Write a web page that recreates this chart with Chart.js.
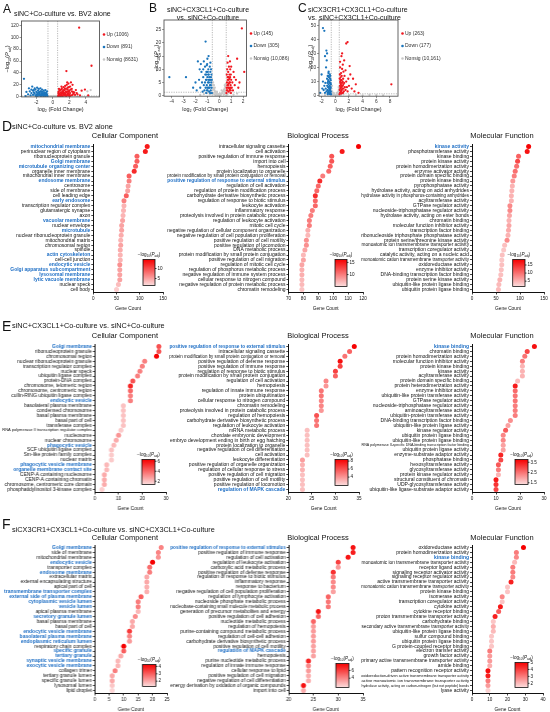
<!DOCTYPE html>
<html>
<head>
<meta charset="utf-8">
<script src="https://cdn.jsdelivr.net/npm/chart.js@4.4.1/dist/chart.umd.min.js"></script>
<style>
  body { margin: 0; background: #fff; width: 550px; height: 712px; position: relative; overflow: hidden;
         font-family: "Liberation Sans", Arial, sans-serif; color: #111; }
  canvas { position: absolute; }
  .t { position: absolute; white-space: nowrap; line-height: 1; color: #111; will-change: transform; }
  .c { text-align: center; }
  .big { font-size: 12px; }
  .row { font-size: 14px; }
  .ttl { font-size: 7px; }
  .sub { font-size: 7.5px; width: 100px; text-align: center; }
</style>
</head>
<body>
<div class="t big" style="left:3px;top:3px">A</div>
<div class="t ttl" style="left:14px;top:10px">siNC+Co-culture vs. BV2 alone</div>
<div class="t big" style="left:149px;top:2px">B</div>
<div class="t ttl c" style="left:158px;top:6px;width:100px;line-height:7.5px">siNC+CX3CL1+Co-culture<br>vs. siNC+Co-culture</div>
<div class="t big" style="left:298px;top:2px">C</div>
<div class="t ttl" style="left:307.5px;top:6px;line-height:7.5px">siCX3CR1+CX3CL1+Co-culture<br>vs. siNC+CX3CL1+Co-culture</div>

<div class="t row" style="left:2px;top:119px">D</div>
<div class="t ttl" style="left:12px;top:123px;font-size:7.3px">siNC+Co-culture vs. BV2 alone</div>
<div class="t sub" style="left:75px;top:131.8px">Cellular Component</div>
<div class="t sub" style="left:268px;top:131.8px">Biological Process</div>
<div class="t sub" style="left:452px;top:131.8px">Molecular Function</div>

<div class="t row" style="left:2px;top:318.5px">E</div>
<div class="t ttl" style="left:12px;top:322px;font-size:7.3px">siNC+CX3CL1+Co-culture vs. siNC+Co-culture</div>
<div class="t sub" style="left:75px;top:332.3px">Cellular Component</div>
<div class="t sub" style="left:268px;top:332.3px">Biological Process</div>
<div class="t sub" style="left:452px;top:332.3px">Molecular Function</div>

<div class="t row" style="left:2px;top:516.5px">F</div>
<div class="t ttl" style="left:12px;top:525.5px;font-size:7.3px">siCX3CR1+CX3CL1+Co-culture vs. siNC+CX3CL1+Co-culture</div>
<div class="t sub" style="left:75px;top:533.8px">Cellular Component</div>
<div class="t sub" style="left:268px;top:533.8px">Biological Process</div>
<div class="t sub" style="left:452px;top:533.8px">Molecular Function</div>

<script>
// ---------- volcano data (log2 FC, -log10 Padj) ----------
const volcanoLabels = ["Up", "Down", "Nonsig"];

const volAUp = [[0.65,1],[0.7,3],[0.75,2],[0.8,5],[0.85,1.5],[0.9,4],[0.95,7],[1.0,2],[1.05,6],[1.1,3],[1.15,9],[1.2,1],[1.25,5],[1.3,8],[1.35,3],[1.4,11],[1.45,2],[1.5,6],[1.55,4],[1.6,9],[1.65,1],[1.7,7],[1.75,3],[1.8,12],[1.85,5],[1.9,2],[1.95,8],[2.0,4],[2.1,6],[2.2,2],[2.3,9],[2.4,3],[2.5,5],[0.7,8],[0.8,10],[0.9,1],[1.0,12],[1.1,14],[1.2,7],[1.3,16],[1.4,5],[1.5,18],[1.6,13],[1.7,20],[1.8,15],[1.9,22],[2.0,10],[2.1,17],[2.2,24],[2.3,13],[2.6,7],[2.8,11],[3.0,4],[3.5,10],[3.9,12],[4.3,2],[4.7,52],[3.2,116],[1.65,43],[1.75,24],[2.4,20],[0.75,13],[1.05,17],[1.25,11],[1.45,14],[1.55,2],[1.85,9],[2.05,1],[2.15,12],[2.45,8],[2.7,3],[2.9,6],[3.3,2],[0.95,3],[1.15,1],[1.35,6],[0.68,6],[0.88,11],[1.95,16]];
const volADown = [[-0.65,1],[-0.7,4],[-0.75,2],[-0.8,6],[-0.85,3],[-0.9,1],[-0.95,5],[-1.0,2],[-1.05,7],[-1.1,3],[-1.15,1],[-1.2,5],[-1.25,8],[-1.3,2],[-1.35,4],[-1.4,6],[-1.45,1],[-1.5,9],[-1.55,3],[-1.6,5],[-1.65,2],[-1.7,7],[-1.75,4],[-1.8,10],[-1.85,1],[-1.9,6],[-1.95,3],[-2.0,8],[-2.1,2],[-2.2,5],[-2.3,11],[-2.4,3],[-2.5,17],[-2.6,6],[-2.7,2],[-2.8,9],[-3.0,4],[-3.2,8],[-3.5,30],[-0.7,9],[-0.9,11],[-1.1,10],[-1.3,12],[-1.5,14],[-1.7,13],[-1.9,15],[-2.1,12],[-2.2,14],[-2.4,10],[-0.8,7],[-1.0,4],[-1.2,3],[-1.4,9],[-1.6,8],[-1.8,4],[-2.0,1],[-2.3,7],[-2.6,12],[-3.3,1],[-2.9,14]];
const volANs = [[-0.5,0.5],[-0.3,1],[0,0.3],[0.2,0.8],[0.4,1.1],[-0.1,0.2],[0.5,0.6],[-1,0.5],[1,0.4],[-2,0.3],[2,0.7],[-0.4,0.1],[0.3,0.2],[1.5,0.9],[-1.5,1.0],[3,0.5],[-3,0.4],[0.1,1.2],[-0.2,0.9],[0.45,0.3],[4.2,9],[4.6,11]];
const volACounts = [1006, 891, 8631];

const volBUp = [[0.6,1],[0.62,3],[0.65,5],[0.68,2],[0.7,7],[0.72,4],[0.75,9],[0.78,1.5],[0.8,6],[0.82,3],[0.85,8],[0.88,2],[0.9,5],[0.92,10],[0.95,4],[0.98,1],[1.0,6],[0.63,8],[0.67,10],[0.71,6],[0.74,3],[0.77,7],[0.81,11],[0.84,5],[0.87,2.5],[0.91,7],[0.94,3],[0.97,8],[1.05,3],[1.1,5],[1.15,2],[1.2,9],[1.3,4],[1.4,6],[1.5,14],[1.6,3],[1.7,5],[1.9,25.5],[2.1,9],[0.75,15],[0.7,12.5],[0.9,13],[1.0,11],[1.25,7],[0.64,2],[0.69,4],[0.79,4.5],[0.86,6.5],[0.96,2]];
const volBDown = [[-0.62,1],[-0.65,3],[-0.68,5],[-0.7,7],[-0.72,2],[-0.75,9],[-0.78,4],[-0.8,11],[-0.82,6],[-0.85,1.5],[-0.88,8],[-0.9,3],[-0.92,10],[-0.95,5],[-0.98,2],[-1.0,7],[-1.02,12],[-1.05,4],[-1.08,9],[-1.1,1],[-1.12,6],[-1.15,3],[-1.18,8],[-1.2,5],[-0.63,6],[-0.66,8],[-0.69,10],[-0.71,4],[-0.74,6],[-0.77,1],[-0.81,3],[-0.84,7],[-0.87,5],[-0.91,6],[-0.94,8],[-0.97,9],[-1.01,3],[-1.04,2],[-1.07,6],[-1.1,8],[-1.25,2],[-1.3,4],[-1.35,7],[-1.4,1.5],[-1.45,5],[-1.5,9],[-1.6,3],[-1.7,6],[-1.8,13],[-1.9,2],[-2.0,5],[-2.2,3],[-2.8,7],[-4.2,7],[-1.15,20.5],[-0.9,15],[-1.3,13],[-1.2,11],[-1.55,12],[-1.65,10],[-1.0,14],[-1.35,10],[-1.05,11.5],[-0.75,12.5]];
const volBNs = [[-0.55,4],[-0.5,3],[-0.45,2.5],[-0.4,2],[-0.35,1.5],[-0.3,1.2],[-0.25,0.8],[-0.2,0.6],[-0.15,0.4],[-0.1,0.3],[0,0.1],[0.1,0.3],[0.15,0.5],[0.2,0.8],[0.25,1],[0.3,1.4],[0.35,1.8],[0.4,2.2],[0.45,2.8],[0.5,3.5],[0.55,4.5],[-0.52,5],[-0.48,1],[-0.42,0.5],[-0.38,3],[0.42,0.6],[0.48,1.5],[0.52,2],[0.38,0.4],[-0.3,0.2],[0.05,0.8],[-0.05,0.6],[-0.6,0.8],[-0.8,0.5],[-1.0,1.0],[-1.3,0.6],[0.7,0.6],[0.9,1.1],[1.2,0.4],[-0.7,1.2],[0.6,0.2],[-1.6,0.3],[1.5,0.8],[-0.56,2],[0.56,1],[-0.2,1.5],[0.2,2],[-0.45,4],[0.46,4]];
const volBCounts = [145, 305, 10086];

const volCUp = [[0.62,1],[0.65,4],[0.68,7],[0.7,2],[0.72,10],[0.75,5],[0.78,13],[0.8,3],[0.82,8],[0.85,16],[0.88,1.5],[0.9,6],[0.92,11],[0.95,4],[0.98,9],[1.0,19],[1.05,2],[1.1,7],[1.15,12],[1.2,5],[1.25,3],[1.3,9],[1.35,14],[1.4,6],[0.64,12],[0.67,15],[0.71,20],[0.74,9],[0.77,6],[0.81,11],[0.86,3],[0.93,14],[0.97,7],[1.03,5],[1.08,10],[1.12,2],[1.18,8],[1.5,4],[1.6,10],[1.7,6],[1.8,3],[1.9,12],[2.0,7],[2.2,15],[2.6,12],[3.0,8],[2.8,3],[2.4,5],[3.4,2],[8.2,8],[1.8,38],[1.6,37],[1.0,30],[1.3,25],[1.1,22],[0.9,28],[1.5,18],[1.2,17],[0.7,24],[2.1,21]];
const volCDown = [[-0.62,1],[-0.65,3],[-0.68,6],[-0.7,9],[-0.72,2],[-0.75,12],[-0.78,4],[-0.8,15],[-0.82,7],[-0.85,1.5],[-0.88,10],[-0.9,5],[-0.92,13],[-0.95,3],[-0.98,8],[-1.0,16],[-1.02,11],[-1.05,6],[-1.08,2],[-1.1,14],[-1.12,9],[-1.15,4],[-1.18,7],[-1.2,12],[-0.64,8],[-0.67,11],[-0.71,5],[-0.74,14],[-0.77,1],[-0.81,9],[-0.84,4],[-0.87,13],[-0.91,2],[-0.94,6],[-0.97,17],[-1.01,3],[-1.04,10],[-1.07,14],[-1.1,1],[-1.3,3],[-1.4,5],[-1.5,2],[-1.6,7],[-1.7,4],[-1.9,5],[-2.0,15],[-1.8,10],[-1.8,48],[-1.6,46],[-1.3,32],[-1.2,30],[-1.5,28],[-1.35,20],[-1.25,25],[-1.45,9],[-2.2,2]];
const volCNs = [[-0.55,5],[-0.45,3],[-0.35,2],[-0.25,1],[-0.15,0.5],[0,0.2],[0.15,0.6],[0.25,1.2],[0.35,2],[0.45,3],[0.52,4.5],[-0.5,1],[0.4,0.5],[-0.3,0.3],[0.2,2],[-0.2,1.8],[-0.6,0.6],[-1,0.8],[-1.5,0.4],[0.8,0.5],[1.2,0.9],[2,0.3],[3,0.6],[4,0.2],[5,0.5],[6,0.3],[7,0.2],[-0.48,7],[0.5,6]];
const volCCounts = [263, 177, 10161];

const volATicksX = [-2, 0, 2, 4], volATicksY = [0, 20, 40, 60, 80, 100, 120];
const volBTicksX = [-4, -3, -2, -1, 0, 1, 2], volBTicksY = [0, 5, 10, 15, 20, 25];
const volCTicksX = [-2, 0, 2, 4, 6, 8], volCTicksY = [0, 10, 20, 30, 40, 50];
const FC_CUT = 0.585, P_CUT = 1.3;

// ---------- GO enrichment: D ----------
const dCCTerms = ["mitochondrial membrane","perinuclear region of cytoplasm","ribonucleoprotein granule","Golgi membrane","microtubule organizing center","organelle inner membrane","mitochondrial inner membrane","endosome membrane","centrosome","side of membrane","cell leading edge","early endosome","transcription regulator complex","glutamatergic synapse","axon","vacuolar membrane","nuclear envelope","microtubule","nuclear ribonucleoprotein granule","mitochondrial matrix","chromosomal region","spindle","actin cytoskeleton","cell-cell junction","endocytic vesicle","Golgi apparatus subcompartment","lysosomal membrane","lytic vacuole membrane","nuclear speck","cell body"];
const dCCCounts = [116,112,94,94,91,88,77,77,75,74,71,66,66,65,64,63,61,61,60,59,59,58,58,58,57,57,57,57,54,50];
const dCCLogP = [13,13,9,9,9,12,9,7,5,5,9,7,4,4,4,5,5,5,4.5,4,5,4.5,4,4,6,5,5,5,3.5,2.5];
const dCCBlue = ["mitochondrial membrane","Golgi membrane","microtubule organizing center","endosome membrane","early endosome","vacuolar membrane","microtubule","actin cytoskeleton","endocytic vesicle","Golgi apparatus subcompartment","lysosomal membrane","lytic vacuole membrane"];

const dBPTerms = ["intracellular signaling cassette","cell activation","positive regulation of immune response","import into cell","hemopoiesis","protein localization to organelle","protein modification by small protein conjugation or removal","positive regulation of response to external stimulus","regulation of cell activation","regulation of protein modification process","carbohydrate derivative biosynthetic process","regulation of response to biotic stimulus","leukocyte activation","inflammatory response","proteolysis involved in protein catabolic process","regulation of leukocyte activation","mitotic cell cycle","negative regulation of cellular component organization","negative regulation of cell population proliferation","positive regulation of cell motility","positive regulation of locomotion","DNA metabolic process","protein modification by small protein conjugation","positive regulation of cell migration","regulation of mitotic cell cycle","regulation of phosphorus metabolic process","negative regulation of immune system process","cellular response to nitrogen compound","negative regulation of protein metabolic process","chromatin remodeling"];
const dBPCounts = [117,106,99,99,98,97,93,91,90,89,88,88,88,86,85,84,84,83,83,82,82,81,80,80,79,79,79,79,79,79];
const dBPLogP = [17,15,12,12,11.5,11,10,14,11,11,14,11,11,10,10,10,10,7.5,7,9,9,8,7,8,8,7.5,7.5,7,7,6.5];
const dBPBlue = ["positive regulation of response to external stimulus"];

const dMFTerms = ["kinase activity","phosphotransferase activity","kinase binding","protein kinase activity","protein homodimerization activity","enzyme activator activity","protein domain specific binding","protein kinase binding","pyrophosphatase activity","hydrolase activity, acting on acid anhydrides","hydrolase activity in phosphorus-containing anhydrides","acyltransferase activity","GTPase regulator activity","nucleoside-triphosphatase regulator activity","hydrolase activity, acting on ester bonds","chromatin binding","molecular function inhibitor activity","transcription factor binding","ribonucleoside triphosphate phosphatase activity","protein serine/threonine kinase activity","monoatomic ion transmembrane transporter activity","transcription coregulator activity","catalytic activity, acting on a nucleic acid","monoatomic cation transmembrane transporter activity","oxidoreductase activity","enzyme inhibitor activity","DNA-binding transcription factor binding","protein serine kinase activity","ubiquitin-like protein ligase binding","ubiquitin protein ligase binding"];
const dMFCounts = [118,115,97,95,93,90,88,85,84,83,82,82,79,79,78,77,77,76,75,73,68,66,63,62,62,61,60,58,56,55];
const dMFLogP = [18,17,11,13,10,10,9,7,5,5,5,5,8,8,6,5,6,5.5,5,8,4,3.5,4,3.5,4,4,4,5,4.5,4.5];
const dMFBlue = ["kinase activity"];

// ---------- GO enrichment: E ----------
const eCCTerms = ["Golgi membrane","ribonucleoprotein granule","chromosomal region","nuclear ribonucleoprotein granule","transcription regulator complex","nuclear speck","ubiquitin ligase complex","protein-DNA complex","chromosome, telomeric region","chromosome, centromeric region","cullin-RING ubiquitin ligase complex","endocytic vesicle","basolateral plasma membrane","condensed chromosome","basal plasma membrane","basal part of cell","transferase complex","RNA polymerase II transcription regulator complex","nucleosome","nuclear chromosome","phagocytic vesicle","SCF ubiquitin ligase complex","Sm-like protein family complex","nuclear matrix","phagocytic vesicle membrane","organelle membrane contact site","CENP-A containing nucleosome","CENP-A containing chromatin","chromosome, centromeric core domain","phosphatidylinositol 3-kinase complex"];
const eCCCounts = [27,27,26,21,20,19,18,16,15,15,15,15,12,12,12,12,12,11,10,9,8,7,7,7,5,5,4,4,4,3];
const eCCLogP = [4.5,4.5,6.3,3.5,3.5,3.5,3.5,4.5,5.5,4,3.5,3.5,2,2,2,2,2,1.8,3,2.5,2.2,2,1.8,1.8,2.2,2.2,2.5,2.5,2.5,1.7];
const eCCBlue = ["Golgi membrane","endocytic vesicle","phagocytic vesicle","phagocytic vesicle membrane","organelle membrane contact site"];

const eBPTerms = ["positive regulation of response to external stimulus","intracellular signaling cassette","protein modification by small protein conjugation or removal","positive regulation of defense response","positive regulation of immune response","regulation of response to biotic stimulus","protein modification by small protein conjugation","regulation of cell activation","hemopoiesis","regulation of innate immune response","protein ubiquitination","cellular response to nitrogen compound","chromatin remodeling","proteolysis involved in protein catabolic process","regulation of hemopoiesis","carbohydrate derivative biosynthetic process","regulation of leukocyte activation","mRNA metabolic process","chordate embryonic development","embryo development ending in birth or egg hatching","protein localization to organelle","negative regulation of cell differentiation","cell activation","leukocyte differentiation","positive regulation of organelle organization","regulation of cellular response to stress","positive regulation of cell migration","positive regulation of cell motility","positive regulation of locomotion","regulation of MAPK cascade"];
const eBPCounts = [34,33,32,31,31,30,30,28,28,27,27,27,27,27,26,26,26,24,24,24,24,24,24,23,23,23,23,23,23,23];
const eBPLogP = [8.3,5.5,5,8,6.5,6.5,5.5,4.5,4,5,5,4.5,4.5,4,6,5,5,2.8,2.8,2.8,2.8,2.8,2.8,3.8,3.2,3.2,2.8,2.8,2.8,2.8];
const eBPBlue = ["positive regulation of response to external stimulus","regulation of MAPK cascade"];

const eMFTerms = ["kinase binding","chromatin binding","protein homodimerization activity","molecular function inhibitor activity","protein kinase binding","kinase activity","acyltransferase activity","protein domain specific binding","protein heterodimerization activity","enzyme inhibitor activity","ubiquitin-like protein transferase activity","GTPase regulator activity","nucleoside-triphosphatase regulator activity","aminoacyltransferase activity","ubiquitin-protein transferase activity","DNA-binding transcription factor binding","ubiquitin-like protein ligase activity","kinase regulator activity","ubiquitin protein ligase binding","ubiquitin-like protein ligase binding","RNA polymerase II-specific DNA-binding transcription factor binding","ubiquitin protein ligase activity","enzyme-substrate adaptor activity","phosphatase binding","hexosyltransferase activity","glycosyltransferase activity","protein kinase regulator activity","structural constituent of chromatin","UDP-glycosyltransferase activity","ubiquitin-like ligase-substrate adaptor activity"];
const eMFCounts = [26,23,22,21,21,21,21,19,18,18,18,18,18,18,18,16,15,14,13,13,13,13,12,12,11,11,11,10,10,10];
const eMFLogP = [3.6,3.0,2.5,2.4,1.8,1.8,1.8,1.7,3.5,2.6,2.5,2.5,2.4,2.4,2.4,2.2,2.0,2.8,2.3,2.3,2.0,2.0,3.4,3.0,2.8,2.4,1.8,3.5,3.2,3.0];
const eMFBlue = ["kinase binding"];

// ---------- GO enrichment: F ----------
const fCCTerms = ["Golgi membrane","side of membrane","mitochondrial membrane","endocytic vesicle","transporter complex","endosome membrane","extracellular matrix","external encapsulating structure","apical part of cell","transmembrane transporter complex","external side of plasma membrane","cytoplasmic vesicle lumen","vesicle lumen","apical plasma membrane","secretory granule lumen","basal plasma membrane","basal part of cell","endocytic vesicle membrane","basolateral plasma membrane","endoplasmic reticulum lumen","respiratory chain complex","specific granule","tertiary granule","synaptic vesicle membrane","exocytic vesicle membrane","collagen trimer","tertiary granule lumen","specific granule lumen","lysosomal lumen","lipid droplet"];
const fCCCounts = [23,22,22,20,19,19,18,18,18,18,16,15,15,15,14,13,13,12,12,12,10,10,9,8,8,7,6,6,6,6];
const fCCLogP = [2.5,2.5,2.3,4.5,2.8,2.6,2.0,2.0,1.9,1.9,3.0,2.6,2.6,1.8,2.4,2.0,2.0,3.5,2.5,2.2,4.3,3.0,2.0,1.8,1.8,2.6,2.0,2.0,1.6,1.4];
const fCCBlue = ["Golgi membrane","endocytic vesicle","endosome membrane","transmembrane transporter complex","external side of plasma membrane","cytoplasmic vesicle lumen","vesicle lumen","secretory granule lumen","endocytic vesicle membrane","basolateral plasma membrane","endoplasmic reticulum lumen","specific granule","tertiary granule","synaptic vesicle membrane","exocytic vesicle membrane"];

const fBPTerms = ["positive regulation of response to external stimulus","positive regulation of immune response","regulation of cell activation","regulation of leukocyte activation","carboxylic acid metabolic process","positive regulation of defense response","regulation of response to biotic stimulus","inflammatory response","response to bacterium","negative regulation of cell population proliferation","regulation of lymphocyte activation","nucleoside phosphate metabolic process","nucleobase-containing small molecule metabolic process","generation of precursor metabolites and energy","positive regulation of cell adhesion","nucleotide metabolic process","regulation of hemopoiesis","purine-containing compound metabolic process","regulation of cell-cell adhesion","carbohydrate derivative biosynthetic process","positive regulation of cell motility","regulation of MAPK cascade","hemopoiesis","purine nucleotide metabolic process","regulation of innate immune response","cellular response to lipid","positive regulation of cell migration","negative regulation of cell differentiation","energy derivation by oxidation of organic compounds","import into cell"];
const fBPCounts = [33,33,32,30,30,29,29,29,29,29,28,28,28,26,26,25,25,25,25,25,25,25,25,24,24,24,24,24,23,23];
const fBPLogP = [7.3,7,7.2,6,3.5,6.5,4.5,4,4,3.3,5,4.5,4.5,7.3,5,5,3.5,3.5,3.5,3.5,3.3,3.3,3.3,6.8,4,3.5,3,3,7.3,3];
const fBPBlue = ["positive regulation of response to external stimulus","regulation of MAPK cascade"];

const fMFTerms = ["oxidoreductase activity","protein homodimerization activity","kinase binding","monoatomic ion transmembrane transporter activity","receptor ligand activity","signaling receptor activator activity","signaling receptor regulator activity","active transmembrane transporter activity","monoatomic cation transmembrane transporter activity","protein kinase binding","isomerase activity","transcription coregulator activity","cytokine activity","cytokine receptor binding","proton transmembrane transporter activity","carbohydrate binding","secondary active transmembrane transporter activity","ubiquitin-like protein ligase binding","sulfur compound binding","ubiquitin protein ligase binding","G protein-coupled receptor binding","electron transfer activity","growth factor activity","primary active transmembrane transporter activity","amide binding","pattern recognition receptor activity","oxidoreduction-driven active transmembrane transporter activity","active monoatomic ion transmembrane transporter activity","hydrolase activity, acting on carbon-nitrogen (but not peptide) bonds","lyase activity"];
const fMFCounts = [29,25,25,24,23,23,23,22,20,20,17,17,16,15,13,12,12,12,11,11,11,10,10,10,10,9,9,9,9,9];
const fMFLogP = [5.2,3.0,2.8,2.0,3.0,3.0,2.8,4.5,1.8,1.8,2.8,1.8,4.6,3.5,4.5,1.8,2.2,2.0,1.8,1.8,1.8,3.0,2.5,2.5,2.2,4.8,4.5,3.0,2.5,1.6];
const fMFBlue = ["kinase binding"];

// x-axis ticks (Gene Count) and colour-bar ranges / ticks
const dCCTicks = [0, 50, 100, 150], dBPTicks = [70, 80, 90, 100, 110, 120], dMFTicks = [0, 50, 100, 150];
const eCCTicks = [0, 10, 20, 30], eBPTicks = [20, 25, 30, 35], eMFTicks = [0, 10, 20, 30];
const fCCTicks = [0, 5, 10, 15, 20, 25], fBPTicks = [20, 25, 30, 35], fMFTicks = [0, 10, 20, 30, 40];

const dCCScale = [1.5, 14.5], dCCBarTicks = [5, 10];
const dBPScale = [5.1, 16.2], dBPBarTicks = [10, 15];
const dMFScale = [1.7, 18.4], dMFBarTicks = [5, 10, 15];
const eCCScale = [1.35, 6.35], eCCBarTicks = [2, 4, 6];
const eBPScale = [1.9, 8.4], eBPBarTicks = [4, 6, 8];
const eMFScale = [1.33, 3.77], eMFBarTicks = [1.5, 2.5, 3.5];
const fCCScale = [1.28, 4.26], fCCBarTicks = [2, 3, 4];
const fBPScale = [1.6, 7.8], fBPBarTicks = [4, 6];
const fMFScale = [1.4, 5.0], fMFBarTicks = [2, 3, 4, 5];

// ---------- drawing ----------
const FONT = '"Liberation Sans", Arial, sans-serif';
const BLUE = "#1f6fc5";
const UP_RED = "#f01820", DOWN_BLUE = "#1b75bc", NS_GREY = "#c8c8c8";
Chart.defaults.font.family = FONT;
Chart.defaults.color = "#111";

const measureCtx = document.createElement("canvas").getContext("2d");
function labelSize(text, bold, base, maxW) {
  measureCtx.font = (bold ? "bold " : "") + base + "px " + FONT;
  const w = measureCtx.measureText(text).width;
  return w > maxW ? base * maxW / w : base;
}

function heat(t) {
  t = Math.max(0, Math.min(1, t));
  const r = Math.round(252 - 6 * t), g = Math.round(222 * (1 - t));
  return `rgb(${r},${g},${g})`;
}

function makeCanvas(x, y, w, h) {
  const c = document.createElement("canvas");
  c.width = w; c.height = h;
  c.style.left = x + "px"; c.style.top = y + "px";
  c.style.width = w + "px"; c.style.height = h + "px";
  document.body.appendChild(c);
  return c;
}

function drawLogP(ctx, cx, cy, size, rotate) {
  const parts = [["\u2212log", 1, 0, ""], ["10", 0.68, 0.3, ""], ["(", 1, 0, ""], ["P", 1, 0, "italic "], ["adj", 0.68, 0.3, ""], [")", 1, 0, ""]];
  ctx.save();
  ctx.translate(cx, cy);
  if (rotate) ctx.rotate(-Math.PI / 2);
  ctx.textBaseline = "alphabetic"; ctx.textAlign = "left"; ctx.fillStyle = "#111";
  let total = 0;
  const widths = parts.map(p => {
    ctx.font = p[3] + (size * p[1]) + "px " + FONT;
    const w = ctx.measureText(p[0]).width;
    total += w;
    return w;
  });
  let x = -total / 2;
  parts.forEach((p, i) => {
    ctx.font = p[3] + (size * p[1]) + "px " + FONT;
    ctx.fillText(p[0], x, size * 0.35 + size * p[2]);
    x += widths[i];
  });
  ctx.restore();
}

function colorbar(cb) {
  return {
    id: "colorbar",
    afterDraw(chart) {
      const ctx = chart.ctx;
      const span = cb.max - cb.min;
      const g = ctx.createLinearGradient(0, cb.y + cb.h, 0, cb.y);
      for (let i = 0; i <= 10; i++) g.addColorStop(i / 10, heat(i / 10));
      ctx.save();
      ctx.fillStyle = g;
      ctx.fillRect(cb.x, cb.y, cb.w, cb.h);
      ctx.strokeStyle = "#111"; ctx.lineWidth = 0.8;
      ctx.strokeRect(cb.x, cb.y, cb.w, cb.h);
      ctx.font = "4.6px " + FONT; ctx.fillStyle = "#111";
      ctx.textBaseline = "middle"; ctx.textAlign = "left";
      cb.ticks.forEach(v => {
        const y = cb.y + cb.h - (v - cb.min) / span * cb.h;
        ctx.beginPath(); ctx.moveTo(cb.x + cb.w, y); ctx.lineTo(cb.x + cb.w + 1.5, y); ctx.stroke();
        ctx.fillText(String(v), cb.x + cb.w + 2.5, y);
      });
      ctx.restore();
      drawLogP(ctx, cb.x + cb.w / 2, cb.y - 5, 4.6, false);
    }
  };
}

function goChart(geo, terms, counts, logp, blue, xTicks, scale, barTicks, bar) {
  const top = geo.T - 4;
  const cw = geo.R + 8 - geo.labelLeft;
  const ch = geo.B - top + 20;
  const canvas = makeCanvas(geo.labelLeft, top, cw, ch);
  const yw = geo.L - geo.labelLeft;
  const maxW = yw - 4;
  const span = scale[1] - scale[0];
  new Chart(canvas, {
    type: "scatter",
    data: {
      datasets: [{
        data: terms.map((t, i) => ({ x: counts[i], y: t })),
        backgroundColor: logp.map(v => heat((v - scale[0]) / span)),
        pointRadius: 2.5, pointHoverRadius: 2.5, borderWidth: 0
      }]
    },
    options: {
      responsive: false, animation: false, events: [],
      layout: { padding: { top: 4, right: 8, left: 0, bottom: 0 } },
      plugins: { legend: { display: false }, tooltip: { enabled: false } },
      scales: {
        x: {
          type: "linear", min: xTicks[0], max: xTicks[xTicks.length - 1],
          afterBuildTicks: s => { s.ticks = xTicks.map(v => ({ value: v })); },
          afterFit: s => { s.height = 20; },
          ticks: { font: { size: 4.6 }, padding: 1, maxRotation: 0, color: "#111" },
          grid: { drawOnChartArea: false, tickLength: 2.5, color: "#111", lineWidth: 0.8 },
          border: { color: "#111", width: 1 },
          title: { display: true, text: "Gene Count", font: { size: 4.8 }, padding: { top: 1.5, bottom: 0 }, color: "#111" }
        },
        y: {
          type: "category", labels: terms, offset: true,
          afterFit: s => { s.width = yw; },
          ticks: {
            autoSkip: false, padding: 1,
            color: c => blue.includes(terms[c.index]) ? BLUE : "#111",
            font: c => {
              const b = blue.includes(terms[c.index]);
              return { size: labelSize(terms[c.index], b, 5, maxW), weight: b ? "bold" : "normal" };
            }
          },
          grid: { drawOnChartArea: false, tickLength: 2, color: "#111", lineWidth: 0.8, offset: false },
          border: { color: "#111", width: 1 }
        }
      }
    },
    plugins: [colorbar({ x: bar.x - geo.labelLeft, y: bar.y - top, w: bar.w, h: bar.h, min: scale[0], max: scale[1], ticks: barTicks })]
  });
}

function fmtCount(n) { return n >= 10000 ? n.toLocaleString("en-US") : String(n); }

function volcanoDecor(geo) {
  return {
    id: "volcanoDecor",
    beforeDatasetsDraw(chart) {
      const { ctx, chartArea: a, scales: { x, y } } = chart;
      ctx.save();
      ctx.strokeStyle = "#8a8a8a"; ctx.lineWidth = 0.6; ctx.setLineDash([1.2, 1.2]);
      [-FC_CUT, FC_CUT].forEach(v => {
        const px = x.getPixelForValue(v);
        ctx.beginPath(); ctx.moveTo(px, a.top); ctx.lineTo(px, a.bottom); ctx.stroke();
      });
      const py = y.getPixelForValue(P_CUT);
      ctx.beginPath(); ctx.moveTo(a.left, py); ctx.lineTo(a.right, py); ctx.stroke();
      ctx.restore();
    },
    afterDraw(chart) {
      const { ctx, chartArea: a } = chart;
      ctx.save();
      ctx.strokeStyle = "#555"; ctx.lineWidth = 0.9;
      ctx.strokeRect(a.left, a.top, a.right - a.left, a.bottom - a.top);
      ctx.font = "5px " + FONT; ctx.textBaseline = "middle"; ctx.textAlign = "left";
      chart.data.datasets.forEach((ds, i) => {
        const yy = a.top + 13.5 + i * 12.5;
        ctx.fillStyle = ds.backgroundColor;
        ctx.beginPath(); ctx.arc(a.right + 4.5, yy, 1.3, 0, Math.PI * 2); ctx.fill();
        ctx.fillStyle = "#333";
        ctx.fillText(ds.label, a.right + 7, yy);
      });
      ctx.restore();
      drawLogP(ctx, geo.ylab - geo.x, (a.top + a.bottom) / 2, 5.5, true);
    }
  };
}

function volcanoChart(geo, up, down, ns, counts, xr, yr, xTicks, yTicks) {
  const canvas = makeCanvas(geo.x, geo.y, geo.w, geo.h);
  const yw = geo.L - geo.x;
  const xh = geo.y + geo.h - geo.B;
  const toPts = arr => arr.map(p => ({ x: p[0], y: p[1] }));
  const sets = [up, down, ns], cols = [UP_RED, DOWN_BLUE, NS_GREY];
  new Chart(canvas, {
    type: "scatter",
    data: {
      datasets: sets.map((s, i) => ({
        label: volcanoLabels[i] + " (" + fmtCount(counts[i]) + ")",
        data: toPts(s), backgroundColor: cols[i],
        pointRadius: 1.15, pointHoverRadius: 1.15, borderWidth: 0
      }))
    },
    options: {
      responsive: false, animation: false, events: [],
      layout: { padding: { top: geo.T - geo.y, right: geo.x + geo.w - geo.R, left: 0, bottom: 0 } },
      plugins: { legend: { display: false }, tooltip: { enabled: false } },
      scales: {
        x: {
          type: "linear", min: xr[0], max: xr[1],
          afterBuildTicks: s => { s.ticks = xTicks.map(v => ({ value: v })); },
          afterFit: s => { s.height = xh; },
          ticks: { font: { size: 4.8 }, padding: 0.5, maxRotation: 0, color: "#333" },
          grid: { drawOnChartArea: false, tickLength: 2, color: "#555", lineWidth: 0.6 },
          border: { display: false },
          title: { display: true, text: "log\u2082 (Fold Change)", font: { size: 5.5 }, padding: { top: 1, bottom: 0 }, color: "#222" }
        },
        y: {
          type: "linear", min: yr[0], max: yr[1],
          afterBuildTicks: s => { s.ticks = yTicks.map(v => ({ value: v })); },
          afterFit: s => { s.width = yw; },
          ticks: { font: { size: 4.8 }, padding: 0.8, color: "#333" },
          grid: { drawOnChartArea: false, tickLength: 2, color: "#555", lineWidth: 0.6 },
          border: { display: false }
        }
      }
    },
    plugins: [volcanoDecor(geo)]
  });
}

// volcano plots
volcanoChart({ x: 0, y: 17, w: 150, h: 96, L: 21.5, R: 99.5, T: 21, B: 96.9, ylab: 7.5 },
  volAUp, volADown, volANs, volACounts, [-3.8, 5.67], [-0.4, 127.3], volATicksX, volATicksY);
volcanoChart({ x: 145, y: 16, w: 150, h: 97, L: 164, R: 246.5, T: 20, B: 96.2, ylab: 156.5 },
  volBUp, volBDown, volBNs, volBCounts, [-4.65, 2.29], [-0.2, 28.7], volBTicksX, volBTicksY);
volcanoChart({ x: 300, y: 16, w: 150, h: 97, L: 319, R: 398, T: 20, B: 96.2, ylab: 310.5 },
  volCUp, volCDown, volCNs, volCCounts, [-2.38, 9.17], [-0.4, 53.7], volCTicksX, volCTicksY);

// GO dot plots
goChart({ labelLeft: 1, L: 93.3, R: 163.3, T: 143.5, B: 291.5 }, dCCTerms, dCCCounts, dCCLogP, dCCBlue, dCCTicks, dCCScale, dCCBarTicks, { x: 143, y: 259, w: 12, h: 26 });
goChart({ labelLeft: 166, L: 288.5, R: 363, T: 143.5, B: 291.5 }, dBPTerms, dBPCounts, dBPLogP, dBPBlue, dBPTicks, dBPScale, dBPBarTicks, { x: 335, y: 259, w: 12, h: 27 });
goChart({ labelLeft: 360, L: 472, R: 544, T: 143.5, B: 291.5 }, dMFTerms, dMFCounts, dMFLogP, dMFBlue, dMFTicks, dMFScale, dMFBarTicks, { x: 512.7, y: 259, w: 12.3, h: 27 });

goChart({ labelLeft: 1, L: 94.3, R: 165.7, T: 343.5, B: 491.5 }, eCCTerms, eCCCounts, eCCLogP, eCCBlue, eCCTicks, eCCScale, eCCBarTicks, { x: 141, y: 459, w: 13, h: 25 });
goChart({ labelLeft: 168, L: 288.3, R: 359.3, T: 343.5, B: 491.5 }, eBPTerms, eBPCounts, eBPLogP, eBPBlue, eBPTicks, eBPScale, eBPBarTicks, { x: 335, y: 459, w: 13, h: 26 });
goChart({ labelLeft: 360, L: 472, R: 544, T: 343.5, B: 491.5 }, eMFTerms, eMFCounts, eMFLogP, eMFBlue, eMFTicks, eMFScale, eMFBarTicks, { x: 515, y: 459, w: 13, h: 25 });

goChart({ labelLeft: 1, L: 94.3, R: 166.7, T: 544.5, B: 692.5 }, fCCTerms, fCCCounts, fCCLogP, fCCBlue, fCCTicks, fCCScale, fCCBarTicks, { x: 141.7, y: 664, w: 13.3, h: 22 });
goChart({ labelLeft: 169, L: 288, R: 362.7, T: 544.5, B: 692.5 }, fBPTerms, fBPCounts, fBPLogP, fBPBlue, fBPTicks, fBPScale, fBPBarTicks, { x: 335, y: 663, w: 13, h: 24 });
goChart({ labelLeft: 360, L: 472, R: 543.3, T: 544.5, B: 692.5 }, fMFTerms, fMFCounts, fMFLogP, fMFBlue, fMFTicks, fMFScale, fMFBarTicks, { x: 515, y: 662, w: 13, h: 25 });
</script>
</body>
</html>
